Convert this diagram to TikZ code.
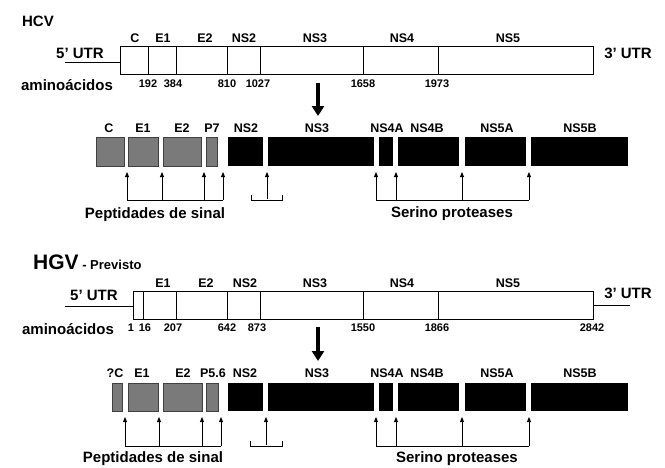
\documentclass[tikz,border=0pt]{standalone}
\usepackage{fontspec}
\setmainfont{Liberation Sans}
\usetikzlibrary{arrows.meta}
\newcommand\pbx[6]{\node[#1,anchor=north west,minimum width={(#4-#3)*1pt},minimum height={(#6-#5)*1pt}] (#2) at (#3,#5) {};}
\begin{document}
\begin{tikzpicture}[x=1pt,y=-1pt,
 lbl/.style={font=\bfseries\fontsize{12.5}{12.5}\selectfont, inner sep=0pt},
 num/.style={font=\bfseries\fontsize{11}{11}\selectfont, inner sep=0pt},
 big/.style={font=\bfseries\fontsize{15}{15}\selectfont, inner sep=0pt},
 gbox/.style={draw=black!75, fill=black!52, line width=1pt, inner sep=0pt},
 kbox/.style={fill=black, inner sep=0pt},
 gene/.style={draw, line width=1.3pt, inner sep=0pt},
 cut/.style={line width=0.9pt},
 sa/.style={line width=0.9pt, -{Triangle[length=5pt,width=4pt]}},
 down/.style={line width=3.5pt, -{Triangle[length=10pt,width=12pt]}}]
\useasboundingbox (0,0) rectangle (665,467);

% ================= HCV =================
\node[big] (thcv) at (38,21) {HCV};
\pbx{gene}{hcv}{120}{593}{46}{74}
\foreach \x in {148,176,227,260,363,438} \draw[cut] (\x,46) -- (\x,74);
\node[lbl] (hg1) at (135,38) {C};
\node[lbl] (hg2) at (163,38) {E1};
\node[lbl] (hg3) at (205,38) {E2};
\node[lbl] (hg4) at (244,38) {NS2};
\node[lbl] (hg5) at (315,38) {NS3};
\node[lbl] (hg6) at (402,38) {NS4};
\node[lbl] (hg7) at (508,38) {NS5};
\node[big] (h5) at (80,53) {5’ UTR};
\coordinate (h5l) at (65,62);
\draw[cut] (h5l) -- (h5l -| hcv.west);
\node[big] (h3) at (628,53) {3’ UTR};
\node[big] (haa) at (67,85) {aminoácidos};
\node[num] (hn1) at (148,84) {192};
\node[num] (hn2) at (173,84) {384};
\node[num] (hn3) at (227,84) {810};
\node[num] (hn4) at (258,84) {1027};
\node[num] (hn5) at (363,84) {1658};
\node[num] (hn6) at (437,84) {1973};
\coordinate (hda) at (318,83);
\coordinate (hdb) at (318,116);
\draw[down] (hda) -- (hdb);

\pbx{gbox}{hpC}{96}{124}{137}{166}
\pbx{gbox}{hpE1}{128}{158}{137}{166}
\pbx{gbox}{hpE2}{163}{201}{137}{166}
\pbx{gbox}{hpP7}{206}{217}{137}{166}
\pbx{kbox}{hpNS2}{228}{263}{137}{166}
\pbx{kbox}{hpNS3}{268}{374}{137}{166}
\pbx{kbox}{hpNS4A}{379}{393}{137}{166}
\pbx{kbox}{hpNS4B}{398}{459}{137}{166}
\pbx{kbox}{hpNS5A}{465}{526}{137}{166}
\pbx{kbox}{hpNS5B}{531}{628}{137}{166}
\node[lbl] (hl1) at (109,128) {C};
\node[lbl] (hl2) at (143,128) {E1};
\node[lbl] (hl3) at (182,128) {E2};
\node[lbl] (hl4) at (212,128) {P7};
\node[lbl] (hl5) at (246,128) {NS2};
\node[lbl] (hl6) at (317,128) {NS3};
\node[lbl] (hl7) at (387,128) {NS4A};
\node[lbl] (hl8) at (427,128) {NS4B};
\node[lbl] (hl9) at (497,128) {NS5A};
\node[lbl] (hl10) at (580,128) {NS5B};

\foreach \x in {127,162,204,223,376,396,462,529} \draw[sa] (\x,200) -- (\x,172);
\draw[cut] (127,200) -- (223,200);
\draw[cut] (376,200) -- (529,200);
\draw[sa] (267,199) -- (267,172);
\draw[cut] (251,195) -- (251,200) -- (282,200) -- (282,195);
\node[big] (hps) at (155,215) {Peptidades de sinal};
\node[big] (hsp) at (452,214) {Serino proteases};

% ================= HGV =================
\node[inner sep=0pt, anchor=base west] (thgv) at (33,269)
  {\bfseries\fontsize{21}{21}\selectfont HGV\fontsize{13}{13}\selectfont\ - Previsto};
\pbx{gene}{hgv}{133}{593}{291}{319}
\foreach \x in {143,176,227,260,363,438} \draw[cut] (\x,291) -- (\x,319);
\node[lbl] (gg2) at (163,283) {E1};
\node[lbl] (gg3) at (206,283) {E2};
\node[lbl] (gg4) at (245,283) {NS2};
\node[lbl] (gg5) at (315,283) {NS3};
\node[lbl] (gg6) at (402,283) {NS4};
\node[lbl] (gg7) at (508,283) {NS5};
\node[big] (g5) at (94,295) {5’ UTR};
\coordinate (g5l) at (65,306);
\draw[cut] (g5l) -- (g5l -| hgv.west);
\node[big] (g3) at (628,293) {3’ UTR};
\coordinate (g3r) at (630,305);
\draw[cut] (g3r -| hgv.east) -- (g3r);
\node[big] (gaa) at (68,329) {aminoácidos};
\node[num] (gn0) at (131,328) {1};
\node[num] (gn1) at (145,328) {16};
\node[num] (gn2) at (173,328) {207};
\node[num] (gn3) at (227,328) {642};
\node[num] (gn4) at (257,328) {873};
\node[num] (gn5) at (363,328) {1550};
\node[num] (gn6) at (437,328) {1866};
\node[num] (gn7) at (592,328) {2842};
\coordinate (gda) at (318,327);
\coordinate (gdb) at (318,361);
\draw[down] (gda) -- (gdb);

\pbx{gbox}{gpC}{112}{122}{383}{411}
\pbx{gbox}{gpE1}{128}{158}{383}{411}
\pbx{gbox}{gpE2}{163}{202}{383}{411}
\pbx{gbox}{gpP}{206}{218}{383}{411}
\pbx{kbox}{gpNS2}{228}{263}{383}{411}
\pbx{kbox}{gpNS3}{268}{374}{383}{411}
\pbx{kbox}{gpNS4A}{379}{393}{383}{411}
\pbx{kbox}{gpNS4B}{398}{459}{383}{411}
\pbx{kbox}{gpNS5A}{465}{526}{383}{411}
\pbx{kbox}{gpNS5B}{531}{628}{383}{411}
\node[lbl] (gl1) at (115,373) {?C};
\node[lbl] (gl2) at (142,373) {E1};
\node[lbl] (gl3) at (183,373) {E2};
\node[lbl] (gl4) at (213,373) {P5.6};
\node[lbl] (gl5) at (245,373) {NS2};
\node[lbl] (gl6) at (317,373) {NS3};
\node[lbl] (gl7) at (387,373) {NS4A};
\node[lbl] (gl8) at (427,373) {NS4B};
\node[lbl] (gl9) at (497,373) {NS5A};
\node[lbl] (gl10) at (580,373) {NS5B};

\foreach \x in {125,159,202,221,376,396,462,529} \draw[sa] (\x,446) -- (\x,417);
\draw[cut] (125,446) -- (221,446);
\draw[cut] (376,446) -- (529,446);
\draw[sa] (266,445) -- (266,417);
\draw[cut] (250,441) -- (250,446) -- (282,446) -- (282,441);
\node[big] (gps) at (153,459) {Peptidades de sinal};
\node[big] (gsp) at (457,459) {Serino proteases};
\end{tikzpicture}
\end{document}
